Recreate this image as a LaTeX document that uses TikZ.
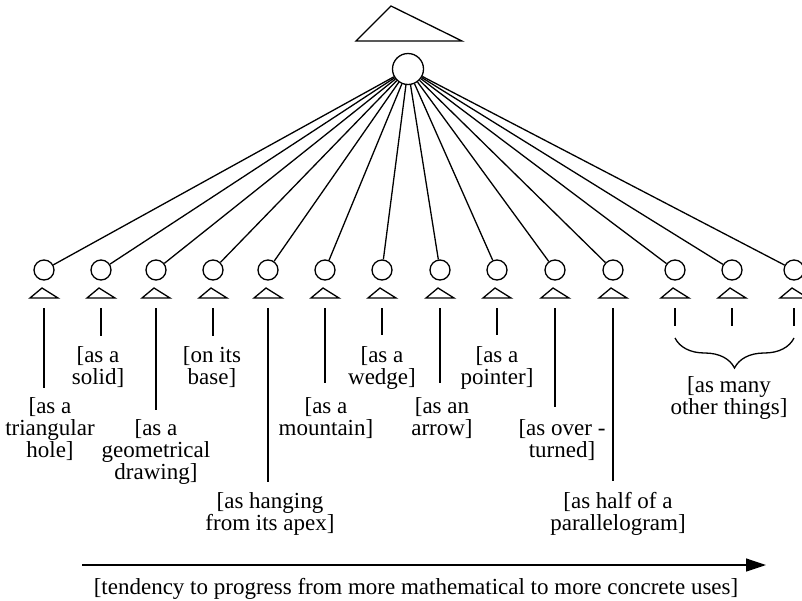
\documentclass[tikz,border=0pt]{standalone}
\usepackage{fontspec}
\setmainfont{Liberation Serif}
\usetikzlibrary{positioning}
\usetikzlibrary{arrows.meta}
\usetikzlibrary{decorations.pathreplacing}

\begin{document}
\begin{tikzpicture}[x=1pt, y=-1pt, line width=1.3pt,
  every node/.style={font=\fontsize{23}{22}\selectfont, inner sep=0pt, align=center},
  ring/.style={circle, draw, minimum size=20pt},
  usage/.style={anchor=north}]

\useasboundingbox (0,0) rectangle (802,600);

% the triangle itself
\draw (356,41) -- (391,6) -- (462,41) -- cycle;
\node[ring, minimum size=31pt] (root) at (408,69) {};

% its many readings
\foreach \i/\x/\len in {1/44/388, 2/101/336, 3/156/410, 4/213/336, 5/268/482,
  6/325/383, 7/382/335, 8/440/383, 9/497/335, 10/555/407, 11/613/481,
  12/675/326, 13/732/326, 14/794/326}
{
  \node[ring] (c\i) at (\x,270) {};
  \draw (root) -- (c\i);
  \draw (\x-14,298) -- (\x-2,288) -- (\x+14,298) -- cycle;
  \coordinate (t\i) at (\x,308);
  \coordinate (e\i) at (\x,\len);
  \draw (t\i) -- (e\i);
}

% labels
\foreach \i/\lx/\ly/\txt in {1/50/397/{[as a\\triangular\\hole]},
  2/98/346/{[as a\\solid]},
  3/156/419/{[as a\\geometrical\\drawing]},
  4/212/346/{[on its\\base]},
  5/270/492/{[as hanging\\from its apex]},
  6/326/397/{[as a\\mountain]},
  7/382/346/{[as a\\wedge]},
  8/442/397/{[as an\\arrow]},
  9/497/346/{[as a\\pointer]},
  10/562/419/{[as over -\\turned]},
  11/618/492/{[as half of a\\parallelogram]}}
{
  \node[usage] (l\i) at (\lx,\ly) {\txt};
}

% the rest
\coordinate (bl) at (675,338);
\coordinate (br) at (794,338);
\draw[decorate, decoration={brace, amplitude=30pt, mirror}] (bl) -- (br);
\node[usage] (many) at (729,376) {[as many\\other things]};

% axis
\coordinate (from) at (82,565);
\coordinate (to) at (766,565);
\draw[->, >={Triangle[length=20pt, width=13pt]}] (from) -- (to);
\node[usage] (trend) at (416,578) {[tendency to progress from more mathematical to more concrete uses]};
\end{tikzpicture}
\end{document}
